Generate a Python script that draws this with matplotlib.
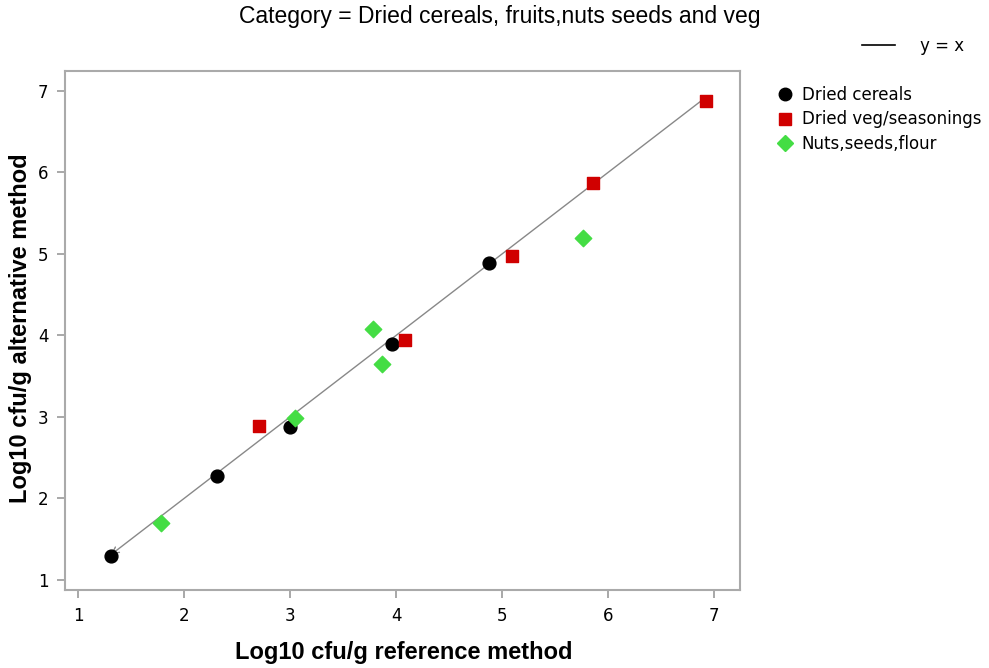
import matplotlib
matplotlib.use("Agg")
import matplotlib.pyplot as plt
from matplotlib.lines import Line2D

cereal_x = [1.31, 2.31, 3.00, 3.96, 4.88]
cereal_y = [1.29, 2.27, 2.88, 3.90, 4.89]
veg_x = [2.71, 4.08, 5.09, 5.86, 6.92]
veg_y = [2.89, 3.94, 4.98, 5.87, 6.88]
nuts_x = [1.78, 3.05, 3.78, 3.87, 5.76]
nuts_y = [1.70, 2.99, 4.08, 3.65, 5.19]
line_ends = [1.31, 6.92]
ticks = [1, 2, 3, 4, 5, 6, 7]

fig = plt.figure(figsize=(9.89, 6.68), dpi=100)
ax = fig.add_axes([65/989, 1-590/668, 675/989, 519/668])
ax.set_xlim(0.877, 7.245)
ax.set_ylim(0.877, 7.245)

ax.annotate("", xy=(line_ends[0], line_ends[0]), xytext=(line_ends[1], line_ends[1]),
            arrowprops=dict(arrowstyle="->", color="#888888", lw=1.0,
                            shrinkA=0, shrinkB=0, mutation_scale=12), zorder=2)

ax.scatter(cereal_x, cereal_y, marker="o", s=85, color="black", zorder=3)
ax.scatter(veg_x, veg_y, marker="s", s=85, color="#d00000", zorder=3)
ax.scatter(nuts_x, nuts_y, marker="D", s=70, color="#44dd44", zorder=3)

ax.set_xticks(ticks)
ax.set_yticks(ticks)
ax.tick_params(direction="out", length=6, color="#999999", labelsize=12, width=1.2, pad=6)
for s in ax.spines.values():
    s.set_color("#aaaaaa")
    s.set_linewidth(1.5)

fig.text(404/989, 1-652/668, "Log10 cfu/g reference method", fontsize=17, fontweight="bold",
         family="Liberation Sans", ha="center", va="center")
fig.text(21/989, 1-328/668, "Log10 cfu/g alternative method", fontsize=17, fontweight="bold",
         family="Liberation Sans", ha="center", va="center", rotation=90)

fig.text(500/989, 1-17/668, "Category = Dried cereals, fruits,nuts seeds and veg",
         ha="center", va="center", fontsize=16.5, family="Liberation Sans")

handles = [
    Line2D([], [], marker="o", color="black", ls="none", markersize=9),
    Line2D([], [], marker="s", color="#d00000", ls="none", markersize=9),
    Line2D([], [], marker="D", color="#44dd44", ls="none", markersize=8),
]
labels = ["Dried cereals", "Dried veg/seasonings", "Nuts,seeds,flour"]
fig.legend(handles, labels, loc="upper left", bbox_to_anchor=(766/989, 1-79/668),
           frameon=False, fontsize=12, handletextpad=0.25, labelspacing=0.4,
           borderaxespad=0, handlelength=1.5)

fig.legend([Line2D([], [], color="black", lw=1.2)], ["y = x"], loc="upper left",
           bbox_to_anchor=(855/989, 1-30/668), frameon=False, fontsize=12,
           handlelength=2.0, handletextpad=1.5, borderaxespad=0)

fig.savefig("out.png", dpi=100)
